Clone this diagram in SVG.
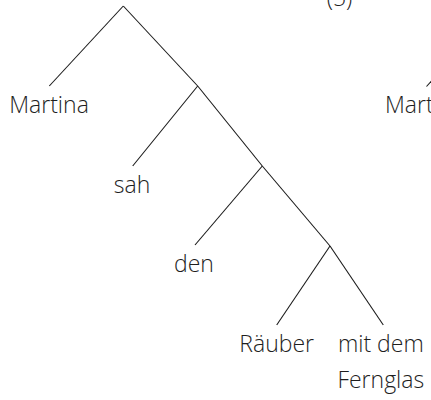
<svg xmlns="http://www.w3.org/2000/svg" width="431" height="400" viewBox="0 0 431 400">
<style>
text{font-family:"Open Sans","Noto Sans",sans-serif;font-weight:300;font-size:23px;fill:#1e1e1e;text-anchor:middle}
.c line{stroke:#1a1a1a;stroke-width:1.1;fill:none}
</style>
<rect width="431" height="400" fill="#fff"/>
<g id="label"><text x="339.5" y="6">(5)</text></g>
<g class="c" id="connectors">
<line x1="123.3" y1="6" x2="49.3" y2="86"/>
<line x1="123.3" y1="6" x2="197.7" y2="86"/>
<line x1="197.7" y1="86" x2="132.7" y2="166"/>
<line x1="197.7" y1="86" x2="262.3" y2="166"/>
<line x1="262.3" y1="166" x2="195" y2="245"/>
<line x1="262.3" y1="166" x2="330" y2="246"/>
<line x1="330" y1="246" x2="276.7" y2="325"/>
<line x1="330" y1="246" x2="383.3" y2="325"/>
<line x1="426.5" y1="86.5" x2="436" y2="76"/>
</g>
<g id="martina"><text x="49" y="113.3">Martina</text></g>
<g id="sah"><text x="132" y="192.7">sah</text></g>
<g id="den"><text x="194" y="272.3">den</text></g>
<g id="raeuber"><text x="276.7" y="351.7">Räuber</text></g>
<g id="mitdem"><text x="380.8" y="351.7">mit dem</text><text x="380.8" y="388.3">Fernglas</text></g>
<g id="martina2"><text x="385" y="113.3" style="text-anchor:start">Martina</text></g>
</svg>
